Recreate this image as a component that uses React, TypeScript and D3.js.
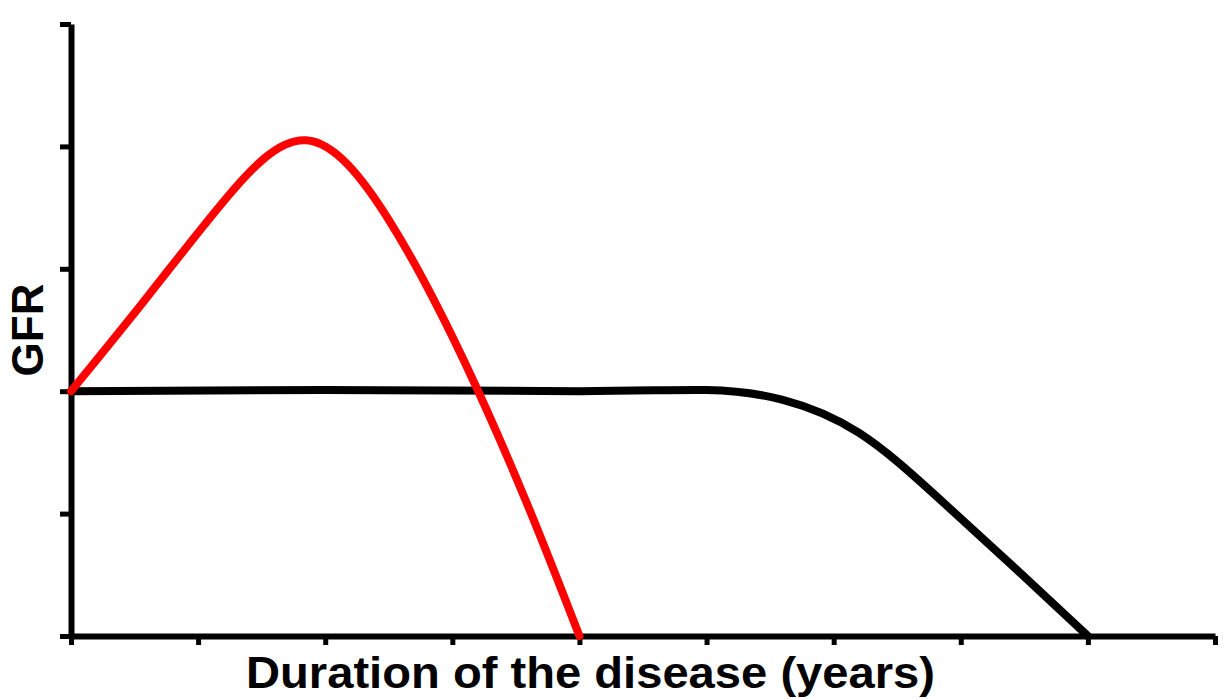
import React, { useEffect, useRef } from 'react';
import * as d3 from 'd3';

// duration (tick units), GFR (tick units)
const normalX = [0, 2, 4, 5.0, 5.6, 6.2, 6.8, 7.4, 8.0];
const normalY = [2.0, 2.01, 2.0, 2.01, 1.93, 1.66, 1.15, 0.58, 0];

const hyperX = [0, 0.6, 1.2, 1.85, 2.5, 3.1, 3.6, 4.0];
const hyperY = [2.0, 2.77, 3.55, 4.05, 3.4, 2.23, 1.05, 0];

const xTicks = [0, 1, 2, 3, 4, 5, 6, 7, 8, 9];
const yTicks = [0, 1, 2, 3, 4, 5];

export default function App() {
  const svgRef = useRef<SVGSVGElement>(null);

  useEffect(() => {
    if (!svgRef.current) return;
    const width = 1229;
    const height = 699;

    const svg = d3.select(svgRef.current);
    svg.selectAll('*').remove();
    svg.attr('width', width).attr('height', height);

    const x = d3.scaleLinear().domain([0, 9]).range([71, 1215]);
    const y = d3.scaleLinear().domain([0, 5]).range([636, 24]);

    // Axes
    const yAxis = svg.append('g')
      .attr('transform', `translate(${x(0)},0)`)
      .call(d3.axisLeft(y).tickValues(yTicks).tickSize(11).tickSizeOuter(0).tickFormat(() => ''));
    yAxis.select('.domain').attr('stroke', '#000').attr('stroke-width', 6);
    yAxis.selectAll('.tick line').attr('stroke', '#000').attr('stroke-width', 5);

    const xAxis = svg.append('g')
      .attr('transform', `translate(0,${y(0)})`)
      .call(d3.axisBottom(x).tickValues(xTicks).tickSize(9).tickSizeOuter(0).tickFormat(() => ''));
    xAxis.select('.domain').attr('stroke', '#000').attr('stroke-width', 6);
    xAxis.selectAll('.tick line').attr('stroke', '#000').attr('stroke-width', 5);

    // Curves
    const line = d3.line<[number, number]>()
      .x(d => x(d[0]))
      .y(d => y(d[1]))
      .curve(d3.curveNatural);

    svg.append('path')
      .attr('d', line(normalX.map((v, i) => [v, normalY[i]]) as [number, number][]))
      .attr('fill', 'none')
      .attr('stroke', '#000')
      .attr('stroke-width', 8)
      .attr('stroke-linecap', 'round');

    svg.append('path')
      .attr('d', line(hyperX.map((v, i) => [v, hyperY[i]]) as [number, number][]))
      .attr('fill', 'none')
      .attr('stroke', '#f00')
      .attr('stroke-width', 8)
      .attr('stroke-linecap', 'round');

    // Labels
    svg.append('text')
      .attr('x', 246).attr('y', 688)
      .attr('font-family', '"Liberation Sans", Arial, sans-serif')
      .attr('font-weight', 'bold')
      .attr('font-size', 44)
      .attr('textLength', 689)
      .attr('lengthAdjust', 'spacingAndGlyphs')
      .attr('fill', '#000')
      .text('Duration of the disease (years)');

    svg.append('text')
      .attr('transform', 'translate(43,330) rotate(-90)')
      .attr('text-anchor', 'middle')
      .attr('font-family', '"Liberation Sans", Arial, sans-serif')
      .attr('font-weight', 'bold')
      .attr('font-size', 44)
      .attr('fill', '#000')
      .text('GFR');
  }, []);

  return (
    <div style={{ position: 'fixed', left: 0, top: 0, background: '#fff' }}>
      <svg ref={svgRef} style={{ display: 'block' }}></svg>
    </div>
  );
}
